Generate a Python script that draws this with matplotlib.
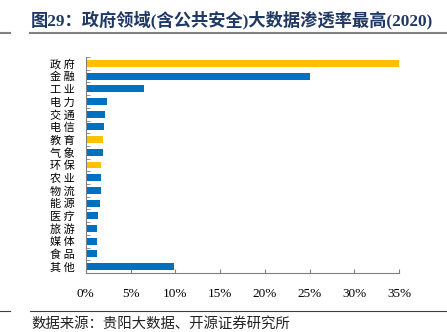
import numpy as np
import matplotlib
matplotlib.use('Agg')
from matplotlib import pyplot as plt
from matplotlib.ticker import FixedLocator, PercentFormatter

plt.rcParams['font.family'] = ['Noto Sans CJK SC', 'DejaVu Sans']

categories = ['政府', '金融', '工业', '电力', '交通', '电信', '教育', '气象', '环保',
              '农业', '物流', '能源', '医疗', '旅游', '媒体', '食品', '其他']
values = [35.0, 25.0, 6.5, 2.4, 2.1, 2.0, 1.9, 1.9, 1.75,
          1.7, 1.7, 1.6, 1.4, 1.3, 1.3, 1.2, 9.9]
highlight = ['政府', '教育', '环保']
x_ticks = [0, 5, 10, 15, 20, 25, 30, 35]

blue = '#0070C0'
gold = '#FFC000'
colors = [gold if c in highlight else blue for c in categories]

fig = plt.figure(figsize=(4.47, 3.32), dpi=100)
ax = fig.add_axes([0.192, 0.178, 0.701, 0.65])

y = np.arange(len(categories))
ax.barh(y, values, height=0.55, color=colors)
ax.set_ylim(len(categories) - 0.5, -0.5)
ax.set_xlim(0, 35)

ax.set_yticks(y)
ax.set_yticklabels([c[0] + ' ' + c[1] for c in categories], fontsize=8)
ax.yaxis.set_minor_locator(FixedLocator(np.arange(-0.5, len(categories), 1)))
ax.tick_params(axis='y', which='major', length=0, pad=8)
ax.tick_params(axis='y', which='minor', length=3, direction='in', color='#808080')

ax.set_xticks(x_ticks)
ax.xaxis.set_major_formatter(PercentFormatter(decimals=0))
ax.tick_params(axis='x', length=3, direction='in', color='#808080', pad=11)
for lab in ax.get_xticklabels():
    lab.set_fontfamily('Liberation Serif')
    lab.set_fontsize(9.5)

for s in ['top', 'right']:
    ax.spines[s].set_visible(False)
for s in ['left', 'bottom']:
    ax.spines[s].set_color('#808080')
    ax.spines[s].set_linewidth(0.8)

fig.text(0.068, 0.94, '图29：政府领域(含公共安全)大数据渗透率最高(2020)',
         fontsize=12.4, fontweight='bold', color='#1F3864',
         family=['Liberation Serif', 'Noto Sans CJK SC'], va='center')
fig.add_artist(plt.Line2D([0.068, 1.0], [0.9, 0.9], color='#808080', lw=1.5))
fig.add_artist(plt.Line2D([0.0, 0.022], [0.9, 0.9], color='#808080', lw=1.5))

fig.add_artist(plt.Line2D([0.068, 1.0], [0.063, 0.063], color='#404040', lw=0.8))
fig.add_artist(plt.Line2D([0.0, 0.022], [0.063, 0.063], color='#404040', lw=0.8))
fig.text(0.07, 0.025, '数据来源：贵阳大数据、开源证券研究所', fontsize=10.4, color='#222222',
         va='center')

fig.savefig('out.png', dpi=100)
